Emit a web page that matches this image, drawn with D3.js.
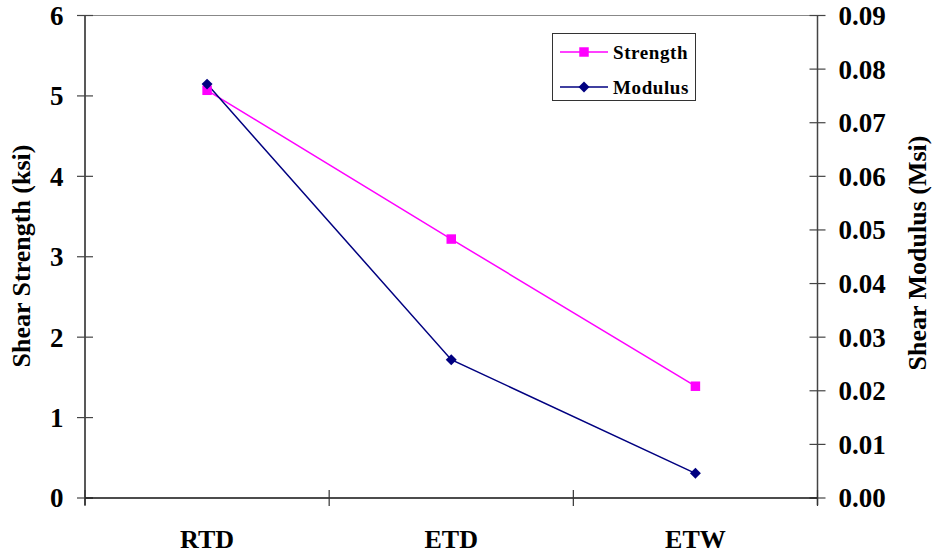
<!DOCTYPE html>
<html><head><meta charset="utf-8">
<script src="https://cdn.jsdelivr.net/npm/d3@7"></script>
<style>body{margin:0;background:#fff}svg{display:block}text{font-family:"Liberation Serif","Times New Roman",serif;font-weight:bold;fill:#000}</style>
</head><body>
<script>
const categories = ["RTD","ETD","ETW"];
const strength = [5.07, 3.22, 1.39];
const modulus = [0.0772, 0.0258, 0.0046];
const leftTicks = [0,1,2,3,4,5,6];
const rightTicks = [0,0.01,0.02,0.03,0.04,0.05,0.06,0.07,0.08,0.09];

const W=935,H=557;
const L=85,R=817.5,T=15.5,B=498;
const svg=d3.select("body").append("svg").attr("width",W).attr("height",H);
const x=d3.scaleBand().domain(categories).range([L,R]);
const yL=d3.scaleLinear().domain([0,6]).range([B,T]);
const yR=d3.scaleLinear().domain([0,0.09]).range([B,T]);

// top border
svg.append("line").attr("x1",L).attr("x2",R).attr("y1",T).attr("y2",T).attr("stroke","#888").attr("stroke-width",1.2);

// left axis
const gl=svg.append("g");
gl.append("line").attr("x1",L).attr("x2",L).attr("y1",T).attr("y2",B+7).attr("stroke","#222").attr("stroke-width",1.5);
gl.selectAll("line.t").data(leftTicks).join("line").attr("class","t")
 .attr("x1",L-8).attr("x2",L+8).attr("y1",d=>yL(d)).attr("y2",d=>yL(d)).attr("stroke","#444").attr("stroke-width",1.2);
gl.selectAll("text").data(leftTicks).join("text").attr("x",L-21.5).attr("y",d=>yL(d)).attr("dy","0.35em")
 .attr("text-anchor","end").attr("font-size",27).text(d=>d);

// right axis
const gr=svg.append("g");
gr.append("line").attr("x1",R).attr("x2",R).attr("y1",T).attr("y2",B+7).attr("stroke","#444").attr("stroke-width",1.5);
gr.selectAll("line.t").data(rightTicks).join("line").attr("class","t")
 .attr("x1",R-8).attr("x2",R+8).attr("y1",d=>yR(d)).attr("y2",d=>yR(d)).attr("stroke","#444").attr("stroke-width",1.2);
gr.selectAll("text").data(rightTicks).join("text").attr("x",R+21).attr("y",d=>yR(d)).attr("dy","0.35em")
 .attr("text-anchor","start").attr("font-size",27).text(d=>d.toFixed(2));

// x axis
const bounds=categories.map(c=>x(c)).concat([R]);
svg.append("line").attr("x1",L).attr("x2",R).attr("y1",B).attr("y2",B).attr("stroke","#111").attr("stroke-width",1.5);
svg.selectAll("line.xt").data(bounds).join("line").attr("class","xt")
 .attr("x1",d=>d).attr("x2",d=>d).attr("y1",B-8).attr("y2",B+8).attr("stroke","#333").attr("stroke-width",1.2);
svg.selectAll("text.xl").data(categories).join("text").attr("class","xl")
 .attr("x",d=>x(d)+x.bandwidth()/2).attr("y",539).attr("dy","0.35em").attr("text-anchor","middle").attr("font-size",26).text(d=>d);

// axis titles
svg.append("text").attr("transform",`translate(21,256) rotate(-90)`).attr("text-anchor","middle").attr("dy","0.35em").attr("font-size",26).text("Shear Strength (ksi)");
svg.append("text").attr("transform",`translate(917,253) rotate(-90)`).attr("text-anchor","middle").attr("dy","0.35em").attr("font-size",26).text("Shear Modulus (Msi)");

const cx=c=>x(c)+x.bandwidth()/2;
const sData=categories.map((c,i)=>({c,v:strength[i]}));
const mData=categories.map((c,i)=>({c,v:modulus[i]}));
svg.append("path").datum(sData).attr("fill","none").attr("stroke","#FF00FF").attr("stroke-width",1.5)
 .attr("d",d3.line().x(d=>cx(d.c)).y(d=>yL(d.v)));
svg.append("path").datum(mData).attr("fill","none").attr("stroke","#000080").attr("stroke-width",1.5)
 .attr("d",d3.line().x(d=>cx(d.c)).y(d=>yR(d.v)));
const sq=d3.symbol().type(d3.symbolSquare).size(90);
const dm=d3.symbol().type(d3.symbolSquare).size(60);
svg.selectAll("path.sm").data(sData).join("path").attr("class","sm").attr("d",sq).attr("fill","#FF00FF")
 .attr("transform",d=>`translate(${cx(d.c)},${yL(d.v)})`);
svg.selectAll("path.mm").data(mData).join("path").attr("class","mm").attr("d",dm).attr("fill","#000080")
 .attr("transform",d=>`translate(${cx(d.c)},${yR(d.v)}) rotate(45)`);

// legend
const lg=svg.append("g");
lg.append("rect").attr("x",552.5).attr("y",33.5).attr("width",143).attr("height",67).attr("fill","#fff").attr("stroke","#333").attr("stroke-width",1);
const items=[{n:"Strength",col:"#FF00FF",sym:sq,y:52,rot:0},{n:"Modulus",col:"#000080",sym:dm,y:87,rot:45}];
items.forEach(it=>{
 lg.append("line").attr("x1",560).attr("x2",608).attr("y1",it.y).attr("y2",it.y).attr("stroke",it.col).attr("stroke-width",1.5);
 lg.append("path").attr("d",it.sym).attr("fill",it.col).attr("transform",`translate(584,${it.y}) rotate(${it.rot})`);
 lg.append("text").attr("x",613).attr("y",it.y).attr("dy","0.35em").attr("font-size",19).attr("letter-spacing",0.6).text(it.n);
});
</script>
</body></html>
